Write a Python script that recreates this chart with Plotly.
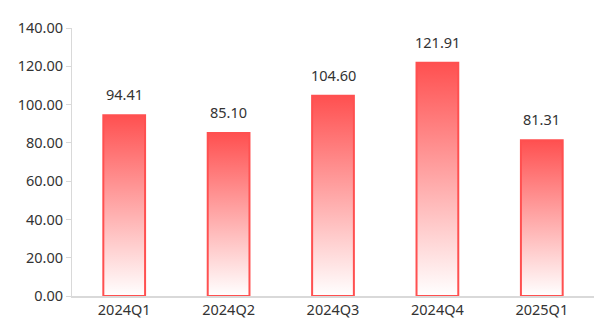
import plotly.graph_objects as go

categories = ["2024Q1", "2024Q2", "2024Q3", "2024Q4", "2025Q1"]
values = [94.41, 85.10, 104.60, 121.91, 81.31]
y_ticks = [0, 20, 40, 60, 80, 100, 120, 140]

RED = "#ff5050"
BAR_W = 0.4
FONT = "Noto Sans"
FS = 14.5

fig = go.Figure()
for i, v in enumerate(values):
    x0, x1 = i - BAR_W / 2, i + BAR_W / 2
    fig.add_trace(go.Scatter(
        x=[x0, x0, x1, x1, x0], y=[0, v, v, 0, 0],
        mode="lines", fill="toself",
        fillgradient=dict(type="vertical", start=0, stop=v,
                          colorscale=[[0, "#ffffff"], [1, RED]]),
        line=dict(color=RED, width=2),
        hoverinfo="skip", showlegend=False,
    ))
    fig.add_annotation(x=i, y=v, xref="x", yref="y", text=f"{v:.2f}",
                       showarrow=False, yanchor="bottom", yshift=9,
                       font=dict(family=FONT, size=FS, color="#333333"))

fig.update_layout(
    width=613, height=332,
    margin=dict(l=72, r=19, t=28, b=36),
    paper_bgcolor="white", plot_bgcolor="white",
    font=dict(family=FONT, size=FS, color="#333333"),
    showlegend=False,
)
fig.update_xaxes(
    range=[-0.5, len(categories) - 0.5],
    tickvals=list(range(len(categories))), ticktext=categories,
    showgrid=False, zeroline=False,
    showline=True, linecolor="#d9d9d9", linewidth=2,
    ticks="", ticklen=0,
)
fig.update_yaxes(
    range=[0, 140], tickvals=y_ticks,
    ticktext=[f"{t:.2f}" for t in y_ticks],
    showgrid=False, zeroline=False,
    showline=True, linecolor="#d9d9d9", linewidth=1,
    ticks="outside", ticklen=5, tickcolor="#d9d9d9",
)
fig.write_html("out.html")
